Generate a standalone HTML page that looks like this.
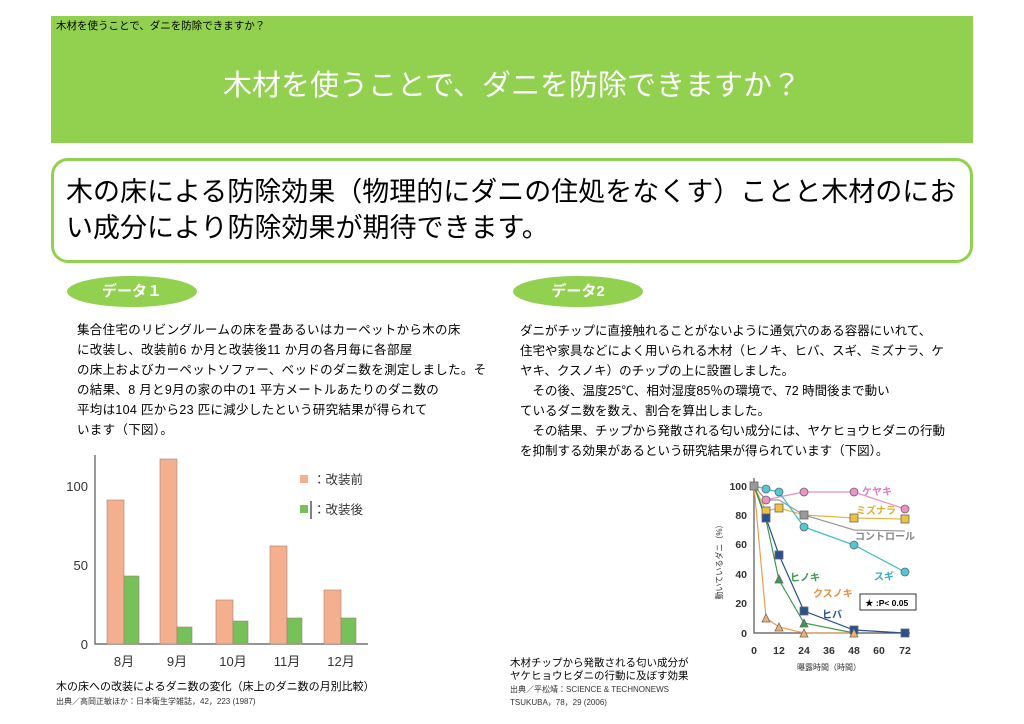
<!DOCTYPE html>
<html><head><meta charset="utf-8"><style>
*{margin:0;padding:0;box-sizing:border-box}
body{width:1024px;height:724px;background:#fff;position:relative;font-family:"Liberation Sans","Noto Sans CJK JP",sans-serif;overflow:hidden;color:#000}
.a{position:absolute}
.hdr{left:51px;top:16px;width:922px;height:127px;background:#92d050}
.pill{background:#92d050;border-radius:50%;color:#fff;font-weight:bold;font-size:15px;text-align:center;line-height:31px;width:130px;height:31px}
.p{font-size:12.5px;line-height:20px;white-space:nowrap}
</style></head><body>
<div class="a hdr"></div>
<div class="a" style="left:56px;top:18px;font-size:10.5px">木材を使うことで、ダニを防除できますか？</div>
<div class="a" style="left:51px;top:62px;width:922px;text-align:center;color:#fff;font-size:29px">木材を使うことで、ダニを防除できますか？</div>
<div class="a" style="left:51px;top:158px;width:922px;height:105px;border:3px solid #92d050;border-radius:17px"></div>
<div class="a" style="left:66px;top:174px;font-size:27px;line-height:36px;white-space:nowrap">木の床による防除効果（物理的にダニの住処をなくす）ことと木材のにお<br>い成分により防除効果が期待できます。</div>
<div class="a pill" style="left:67px;top:276px">データ１</div>
<div class="a pill" style="left:513px;top:276px">データ2</div>
<div class="a p" style="left:77px;top:320px;letter-spacing:0.3px">集合住宅のリビングルームの床を畳あるいはカーペットから木の床<br>に改装し、改装前6 か月と改装後11 か月の各月毎に各部屋<br>の床上およびカーペットソファー、ベッドのダニ数を測定しました。そ<br>の結果、8 月と9月の家の中の1 平方メートルあたりのダニ数の<br>平均は104 匹から23 匹に減少したという研究結果が得られて<br>います（下図）。</div>
<div class="a p" style="left:520px;top:321px">ダニがチップに直接触れることがないように通気穴のある容器にいれて、<br>住宅や家具などによく用いられる木材（ヒノキ、ヒバ、スギ、ミズナラ、ケ<br>ヤキ、クスノキ）のチップの上に設置しました。<br>　その後、温度25℃、相対湿度85％の環境で、72 時間後まで動い<br>ているダニ数を数え、割合を算出しました。<br>　その結果、チップから発散される匂い成分には、ヤケヒョウヒダニの行動<br>を抑制する効果があるという研究結果が得られています（下図）。</div>

<svg class="a" style="left:0;top:0" width="1024" height="724" font-family="Liberation Sans,Noto Sans CJK JP,sans-serif">
<g stroke="#555" stroke-width="1.2" fill="none"><path d="M95 455V644H368"/></g>
<g font-size="13" fill="#333" text-anchor="end"><text x="88" y="491">100</text><text x="88" y="570">50</text><text x="88" y="649">0</text></g>
<g stroke="#a08070" stroke-width="0.6">
<rect x="107" y="500" width="17" height="144" fill="#f4b08e"/><rect x="124" y="576" width="15" height="68" fill="#77c15a"/>
<rect x="160" y="459" width="17" height="185" fill="#f4b08e"/><rect x="177" y="627" width="15" height="17" fill="#77c15a"/>
<rect x="216" y="600" width="17" height="44" fill="#f4b08e"/><rect x="233" y="621" width="15" height="23" fill="#77c15a"/>
<rect x="270" y="546" width="17" height="98" fill="#f4b08e"/><rect x="287" y="618" width="15" height="26" fill="#77c15a"/>
<rect x="324" y="590" width="17" height="54" fill="#f4b08e"/><rect x="341" y="618" width="15" height="26" fill="#77c15a"/>
</g>
<g font-size="13" fill="#333" text-anchor="middle"><text x="124" y="666">8月</text><text x="177" y="666">9月</text><text x="233" y="666">10月</text><text x="287" y="666">11月</text><text x="341" y="666">12月</text></g>
<rect x="300" y="475" width="8" height="8" fill="#f4b08e"/><text x="313" y="484" font-size="12.5" fill="#333">：改装前</text>
<rect x="300" y="505" width="8" height="8" fill="#77c15a"/><line x1="311" y1="501" x2="311" y2="519" stroke="#000"/><text x="313" y="514" font-size="12.5" fill="#333">：改装後</text>
<text x="56" y="690" font-size="11">木の床への改装によるダニ数の変化（床上のダニ数の月別比較）</text>
<text x="56" y="704" font-size="8" fill="#333">出典／高岡正敏ほか：日本衛生学雑誌，42，223 (1987)</text>

<g stroke="#555" stroke-width="1.2" fill="none"><path d="M754 478V633H910"/></g>
<g font-size="10.5" font-weight="bold" fill="#333" text-anchor="end"><text x="747" y="490">100</text><text x="747" y="519">80</text><text x="747" y="548">60</text><text x="747" y="578">40</text><text x="747" y="607">20</text><text x="747" y="637">0</text></g>
<g font-size="10.5" font-weight="bold" fill="#333" text-anchor="middle"><text x="754" y="654">0</text><text x="779" y="654">12</text><text x="804" y="654">24</text><text x="829" y="654">36</text><text x="854" y="654">48</text><text x="879" y="654">60</text><text x="905" y="654">72</text></g>
<text x="829" y="670" font-size="8" fill="#333" text-anchor="middle">曝露時間（時間）</text>
<text x="722" y="560" font-size="8" fill="#333" transform="rotate(-90 722 560)" text-anchor="middle">動いているダニ（%）</text>
<g fill="none" stroke-width="1.2">
<polyline stroke="#e58fc8" points="754,486 766,500 779,497 804,492 854,492 905,509"/>
<polyline stroke="#e0b840" points="754,486 766,511 779,508 804,515 854,518 905,519"/>
<polyline stroke="#999" points="754,486 766,500 779,500 804,515 854,530 905,531"/>
<polyline stroke="#40b8c8" points="754,486 766,489 779,492 804,527 854,545 905,572"/>
<polyline stroke="#2a5090" points="754,486 766,518 779,555 804,611 854,630 905,633"/>
<polyline stroke="#3a9a50" points="754,486 766,520 779,580 804,623 854,633"/>
<polyline stroke="#e8a050" points="754,486 766,618 779,627 804,633 854,633"/>
</g>
<g stroke="#666" stroke-width="0.8">
<circle cx="766" cy="500" r="4" fill="#f090c8"/><circle cx="804" cy="492" r="4" fill="#f090c8"/><circle cx="854" cy="492" r="4" fill="#f090c8"/><circle cx="905" cy="509" r="4" fill="#f090c8"/>
<circle cx="766" cy="489" r="4" fill="#50c8d8"/><circle cx="779" cy="492" r="4" fill="#50c8d8"/><circle cx="804" cy="527" r="4" fill="#50c8d8"/><circle cx="854" cy="545" r="4" fill="#50c8d8"/><circle cx="905" cy="572" r="4" fill="#50c8d8"/>
<rect x="762" y="507" width="8" height="8" fill="#f0c040"/><rect x="775" y="504" width="8" height="8" fill="#f0c040"/><rect x="850" y="514" width="8" height="8" fill="#f0c040"/><rect x="901" y="515" width="8" height="8" fill="#f0c040"/>
<rect x="750" y="482" width="8" height="8" fill="#999"/><rect x="800" y="511" width="8" height="8" fill="#999"/>
<rect x="762" y="514" width="8" height="8" fill="#2a5090"/><rect x="775" y="551" width="8" height="8" fill="#2a5090"/><rect x="800" y="607" width="8" height="8" fill="#2a5090"/><rect x="850" y="626" width="8" height="8" fill="#2a5090"/><rect x="901" y="629" width="8" height="8" fill="#2a5090"/>
<polygon points="779,575 775,583 783,583" fill="#3a9a50"/><polygon points="804,619 800,627 808,627" fill="#3a9a50"/>
<polygon points="766,614 762,622 770,622" fill="#f0b070"/><polygon points="779,623 775,631 783,631" fill="#f0b070"/><polygon points="804,629 800,637 808,637" fill="#f0b070"/><polygon points="854,629 850,637 858,637" fill="#f0b070"/>
</g>
<g font-size="10" font-weight="bold"><text x="862" y="495" fill="#e878c0">ケヤキ</text><text x="856" y="514" fill="#e0b030">ミズナラ</text><text x="855" y="540" fill="#888">コントロール</text><text x="874" y="580" fill="#30b0c8">スギ</text><text x="790" y="581" fill="#3a9a50">ヒノキ</text><text x="813" y="597" fill="#e89040">クスノキ</text><text x="822" y="618" fill="#2a5090">ヒバ</text></g>
<rect x="860" y="594" width="56" height="16" fill="#fff" stroke="#333"/><text x="865" y="606" font-size="8.5" font-weight="bold">★ :P&lt; 0.05</text>
<text x="510" y="666" font-size="10.5">木材チップから発散される匂い成分が</text>
<text x="510" y="679" font-size="10.5">ヤケヒョウヒダニの行動に及ぼす効果</text>
<text x="510" y="692" font-size="8" fill="#333">出典／平松靖：SCIENCE &amp; TECHNONEWS</text>
<text x="510" y="705" font-size="8" fill="#333">TSUKUBA，78，29 (2006)</text>
</svg>
</body></html>
